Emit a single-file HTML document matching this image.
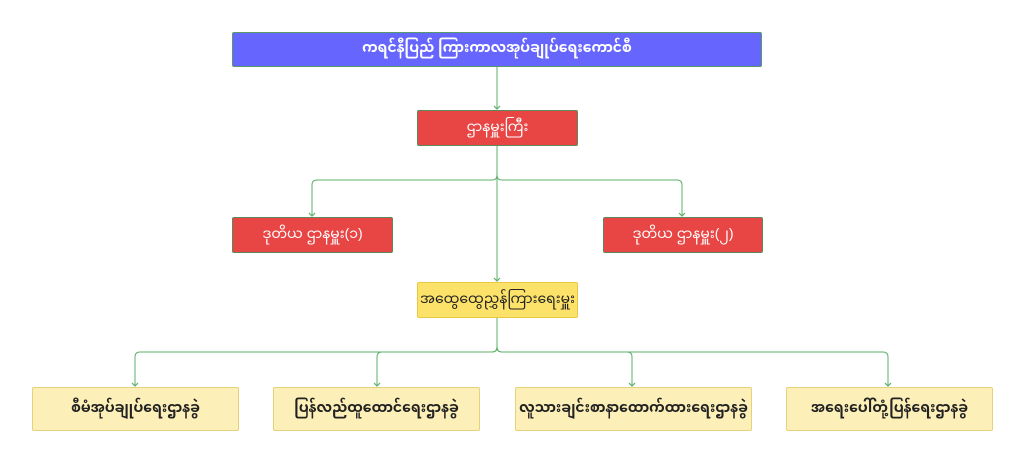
<!DOCTYPE html>
<html><head><meta charset="utf-8"><style>
body{margin:0;width:1024px;height:462px;background:#fff;position:relative;overflow:hidden;font-family:"Liberation Sans","Noto Sans Myanmar","Padauk",sans-serif}
.b{position:absolute;box-sizing:border-box;display:flex;align-items:center;justify-content:center;font-size:14px;border-radius:2px;white-space:nowrap}
.blue{background:#6666ff;color:#fff;border:1px solid #5a9a6a;font-weight:bold}
.red{background:#e84545;color:#fff;border:1px solid #5a8a5a}
.yel{background:#fde26a;color:#222;border:1px solid #e8c840}
.lt{background:#fcefb8;color:#222;border:1px solid #e6d27a;font-weight:bold;font-size:14px}
svg{position:absolute;left:0;top:0}
</style></head><body>
<svg width="1024" height="462" fill="none" stroke="#5cb06a" stroke-width="1">
<path d="M497 66V109"/>
<path d="M497 145V175q0 5 -5 5H317q-5 0 -5 5V216"/>
<path d="M497 175q0 5 5 5H677q5 0 5 5V216"/>
<path d="M497 145V281"/>
<path d="M497 317V347q0 5 -5 5H140q-5 0 -5 5V386"/>
<path d="M497 347q0 5 -5 5H382q-5 0 -5 5V386"/>
<path d="M497 347q0 5 5 5H627q5 0 5 5V386"/>
<path d="M497 347q0 5 5 5H883q5 0 5 5V386"/>
<g stroke-width="1.2">
<path d="M494 106l3 3 3-3M309 213l3 3 3-3M679 213l3 3 3-3M494 278l3 3 3-3M132 383l3 3 3-3M374 383l3 3 3-3M629 383l3 3 3-3M885 383l3 3 3-3"/>
</g>
</svg>
<div class="b blue" style="left:232px;top:32px;width:530px;height:35px">ကရင်နီပြည် ကြားကာလအုပ်ချုပ်ရေးကောင်စီ</div>
<div class="b red" style="left:417px;top:110px;width:161px;height:36px">ဌာနမှူးကြီး</div>
<div class="b red" style="left:232px;top:217px;width:161px;height:36px">ဒုတိယ ဌာနမှူး(၁)</div>
<div class="b red" style="left:603px;top:217px;width:160px;height:36px">ဒုတိယ ဌာနမှူး(၂)</div>
<div class="b yel" style="left:417px;top:282px;width:161px;height:36px">အထွေထွေညွှန်ကြားရေးမှူး</div>
<div class="b lt" style="left:32px;top:387px;width:207px;height:44px">စီမံအုပ်ချုပ်ရေးဌာနခွဲ</div>
<div class="b lt" style="left:273px;top:387px;width:207px;height:44px">ပြန်လည်ထူထောင်ရေးဌာနခွဲ</div>
<div class="b lt" style="left:515px;top:387px;width:237px;height:44px">လူသားချင်းစာနာထောက်ထားရေးဌာနခွဲ</div>
<div class="b lt" style="left:786px;top:387px;width:207px;height:44px">အရေးပေါ်တုံ့ပြန်ရေးဌာနခွဲ</div>
</body></html>
